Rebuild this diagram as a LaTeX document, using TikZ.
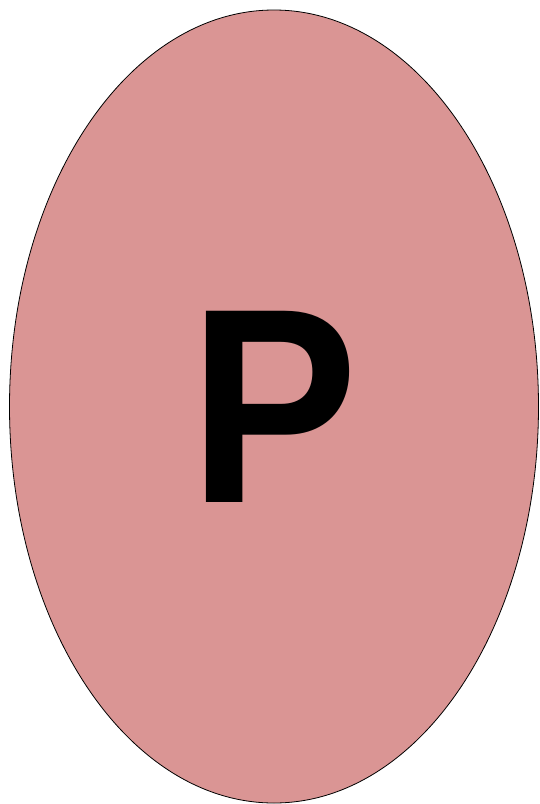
\documentclass[tikz,border=0pt]{standalone}
\usepackage{fontspec}
\setmainfont{Liberation Sans}
\usetikzlibrary{shapes.geometric}
\usepackage{xcolor}
\definecolor{blobfill}{RGB}{218,149,148}

\begin{document}
\begin{tikzpicture}[
    x=1pt, y=-1pt,
    blob/.style={draw, ellipse, fill=blobfill, line width=0.8pt, inner sep=0pt,
                 minimum width=529pt, minimum height=793pt,
                 font=\fontsize{278}{278}\selectfont\bfseries}
]
    \useasboundingbox (0,0) rectangle (539,804);
    % One big ellipse carrying the letter
    \node[blob] (pnode) at (274,406.5) {\raisebox{-1.5pt}{\scalebox{0.91}[1]{P}}};
\end{tikzpicture}
\end{document}
